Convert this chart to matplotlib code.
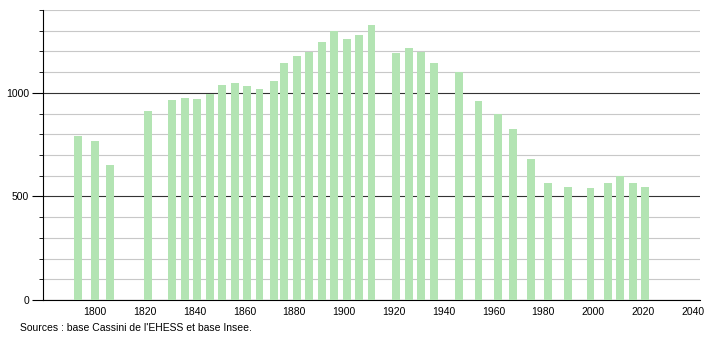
import numpy as np
import matplotlib
matplotlib.use('Agg')
import matplotlib.pyplot as plt
from matplotlib.ticker import MultipleLocator

years = [1793, 1800, 1806, 1821, 1831, 1836, 1841, 1846, 1851, 1856,
         1861, 1866, 1872, 1876, 1881, 1886, 1891, 1896, 1901, 1906,
         1911, 1921, 1926, 1931, 1936, 1946, 1954, 1962, 1968, 1975,
         1982, 1990, 1999, 2006, 2011, 2016, 2021]
population = [790, 766, 653, 911, 967, 976, 969, 995, 1039, 1048,
              1035, 1021, 1055, 1145, 1180, 1198, 1246, 1297, 1261, 1279,
              1326, 1190, 1218, 1198, 1145, 1103, 963, 898, 827, 682,
              566, 545, 543, 566, 601, 566, 545]
xticks = [1800, 1820, 1840, 1860, 1880, 1900, 1920, 1940, 1960, 1980, 2000, 2020, 2040]
source = "Sources : base Cassini de l'EHESS et base Insee."

plt.rcParams['font.family'] = ['Liberation Sans', 'DejaVu Sans']

fig = plt.figure(figsize=(7.1, 3.4), dpi=100)
ax = fig.add_axes([43/710, 40/340, 657/710, 290/340])

ax.bar(years, population, width=3.2, color='#b3e4b3', zorder=3)

ax.set_xlim(1779, 2043)
ax.set_ylim(0, 1400)
ax.yaxis.set_major_locator(MultipleLocator(500))
ax.yaxis.set_minor_locator(MultipleLocator(100))
ax.grid(which='minor', axis='y', color='#c8c8c8', linewidth=0.8, zorder=1)
ax.grid(which='major', axis='y', color='#333333', linewidth=0.8, zorder=2)
ax.set_xticks(xticks)
ax.tick_params(axis='x', length=0, labelsize=7.5, pad=5)
ax.tick_params(axis='y', which='major', length=8, width=0.8, labelsize=7.5, pad=2)
ax.tick_params(axis='y', which='minor', length=3, width=0.6)

for s in ['top', 'right']:
    ax.spines[s].set_visible(False)
ax.spines['left'].set_color('black')
ax.spines['bottom'].set_color('black')

fig.text(20/710, 1 - 328/340, source, fontsize=7.5, va='center', ha='left')

fig.savefig('out.png', dpi=100)
